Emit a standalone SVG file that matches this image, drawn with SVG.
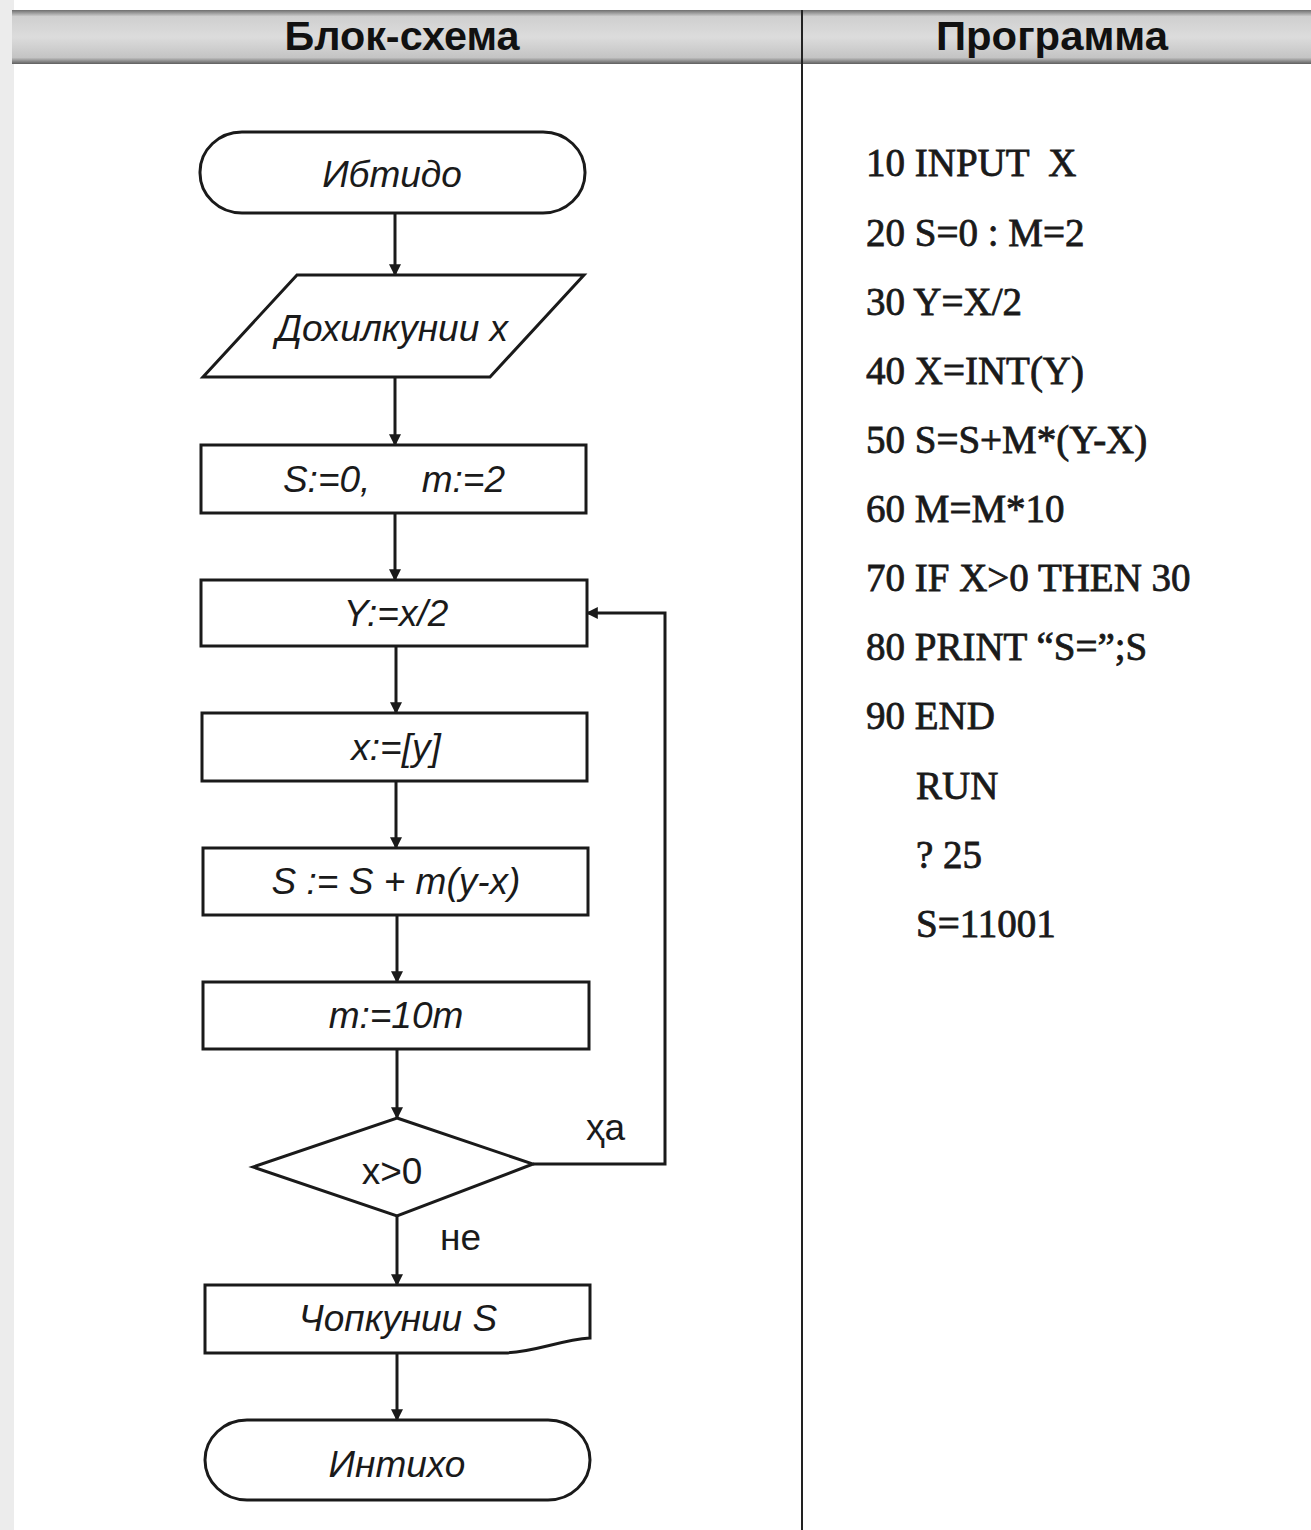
<svg xmlns="http://www.w3.org/2000/svg" width="1311" height="1530" viewBox="0 0 1311 1530">
<style>
.shape{fill:none;stroke:#1a1a1a;stroke-width:3}
.conn{fill:none;stroke:#1a1a1a;stroke-width:3}
.lbl{font-family:"Liberation Sans",Arial,sans-serif;font-style:italic;font-size:37px;fill:#1a1a1a;text-anchor:middle}
.plain{font-family:"Liberation Sans",Arial,sans-serif;font-size:37px;fill:#1a1a1a}
.code{font-family:"Liberation Serif","Times New Roman",serif;font-size:39px;fill:#1a1a1a;stroke:#1a1a1a;stroke-width:0.8}
.hdr{font-family:"Liberation Sans",Arial,sans-serif;font-weight:bold;font-size:40px;fill:#111;text-anchor:middle}
</style>
<defs>
<marker id="arr" viewBox="0 0 10 10" refX="9" refY="5" markerWidth="5" markerHeight="4" orient="auto" markerUnits="strokeWidth">
<path d="M0,0 L10,5 L0,10 z" fill="#1a1a1a"/>
</marker>
<linearGradient id="hg" x1="0" y1="0" x2="0" y2="1">
<stop offset="0" stop-color="#6e6e6e"/>
<stop offset="0.12" stop-color="#cfcfcf"/>
<stop offset="0.5" stop-color="#dcdcdc"/>
<stop offset="0.88" stop-color="#c4c4c4"/>
<stop offset="1" stop-color="#5e5e5e"/>
</linearGradient>
</defs>
<rect x="0" y="0" width="1311" height="1530" fill="#ffffff"/>
<rect x="0" y="0" width="14" height="1530" fill="#ececec"/>
<g id="header">
<rect x="12" y="10" width="1299" height="54" fill="url(#hg)"/>
<text class="hdr" x="402" y="50" textLength="235" lengthAdjust="spacingAndGlyphs">Блок-схема</text>
<text class="hdr" x="1052" y="50" textLength="232" lengthAdjust="spacingAndGlyphs">Программа</text>
</g>
<line x1="802" y1="10" x2="802" y2="1530" stroke="#222" stroke-width="2"/>
<g id="connectors">
<line class="conn" x1="395" y1="213" x2="395" y2="275" marker-end="url(#arr)"/>
<line class="conn" x1="395" y1="378" x2="395" y2="445" marker-end="url(#arr)"/>
<line class="conn" x1="395" y1="513" x2="395" y2="580" marker-end="url(#arr)"/>
<line class="conn" x1="396" y1="646" x2="396" y2="713" marker-end="url(#arr)"/>
<line class="conn" x1="396" y1="781" x2="396" y2="848" marker-end="url(#arr)"/>
<line class="conn" x1="397" y1="915" x2="397" y2="982" marker-end="url(#arr)"/>
<line class="conn" x1="397" y1="1049" x2="397" y2="1118" marker-end="url(#arr)"/>
<polyline class="conn" points="533,1164 665,1164 665,613 587,613" marker-end="url(#arr)"/>
<line class="conn" x1="397" y1="1216" x2="397" y2="1285" marker-end="url(#arr)"/>
<line class="conn" x1="397" y1="1353" x2="397" y2="1420" marker-end="url(#arr)"/>
<text class="plain" x="586" y="1140">ҳа</text>
<text class="plain" x="440" y="1250">не</text>
</g>
<g id="start">
<rect class="shape" x="200" y="132" width="385" height="81" rx="42" ry="40"/>
<text class="lbl" x="392" y="187">Ибтидо</text>
</g>
<g id="input">
<polygon class="shape" points="297,275 584,275 490,377 203,377"/>
<text class="lbl" x="392" y="341">Дохилкунии x</text>
</g>
<g id="init">
<rect class="shape" x="201" y="445" width="385" height="68"/>
<text class="lbl" x="394" y="492" xml:space="preserve">S:=0,     m:=2</text>
</g>
<g id="y">
<rect class="shape" x="201" y="580" width="386" height="66"/>
<text class="lbl" x="396" y="626">Y:=x/2</text>
</g>
<g id="x">
<rect class="shape" x="202" y="713" width="385" height="68"/>
<text class="lbl" x="396" y="760">x:=[y]</text>
</g>
<g id="s">
<rect class="shape" x="203" y="848" width="385" height="67"/>
<text class="lbl" x="396" y="894">S := S + m(y-x)</text>
</g>
<g id="m">
<rect class="shape" x="203" y="982" width="386" height="67"/>
<text class="lbl" x="396" y="1028">m:=10m</text>
</g>
<g id="cond">
<polygon class="shape" points="397,1118 533,1164 397,1216 253,1167"/>
<text class="plain" x="392" y="1184" text-anchor="middle">x&gt;0</text>
</g>
<g id="output">
<path class="shape" d="M205,1285 L590,1285 L590,1338 C560,1340 535,1352 505,1353 L205,1353 Z"/>
<text class="lbl" x="398" y="1331">Чопкунии S</text>
</g>
<g id="end">
<rect class="shape" x="205" y="1420" width="385" height="80" rx="42" ry="40"/>
<text class="lbl" x="397" y="1477">Интихо</text>
</g>
<g id="program">
<text class="code" x="866" y="176" xml:space="preserve">10 INPUT  X</text>
<text class="code" x="866" y="246">20 S=0 : M=2</text>
<text class="code" x="866" y="315">30 Y=X/2</text>
<text class="code" x="866" y="384">40 X=INT(Y)</text>
<text class="code" x="866" y="453">50 S=S+M*(Y-X)</text>
<text class="code" x="866" y="522">60 M=M*10</text>
<text class="code" x="866" y="591">70 IF X&gt;0 THEN 30</text>
<text class="code" x="866" y="660">80 PRINT “S=”;S</text>
<text class="code" x="866" y="729">90 END</text>
<text class="code" x="916" y="799">RUN</text>
<text class="code" x="916" y="868">? 25</text>
<text class="code" x="916" y="937">S=11001</text>
</g>
</svg>
